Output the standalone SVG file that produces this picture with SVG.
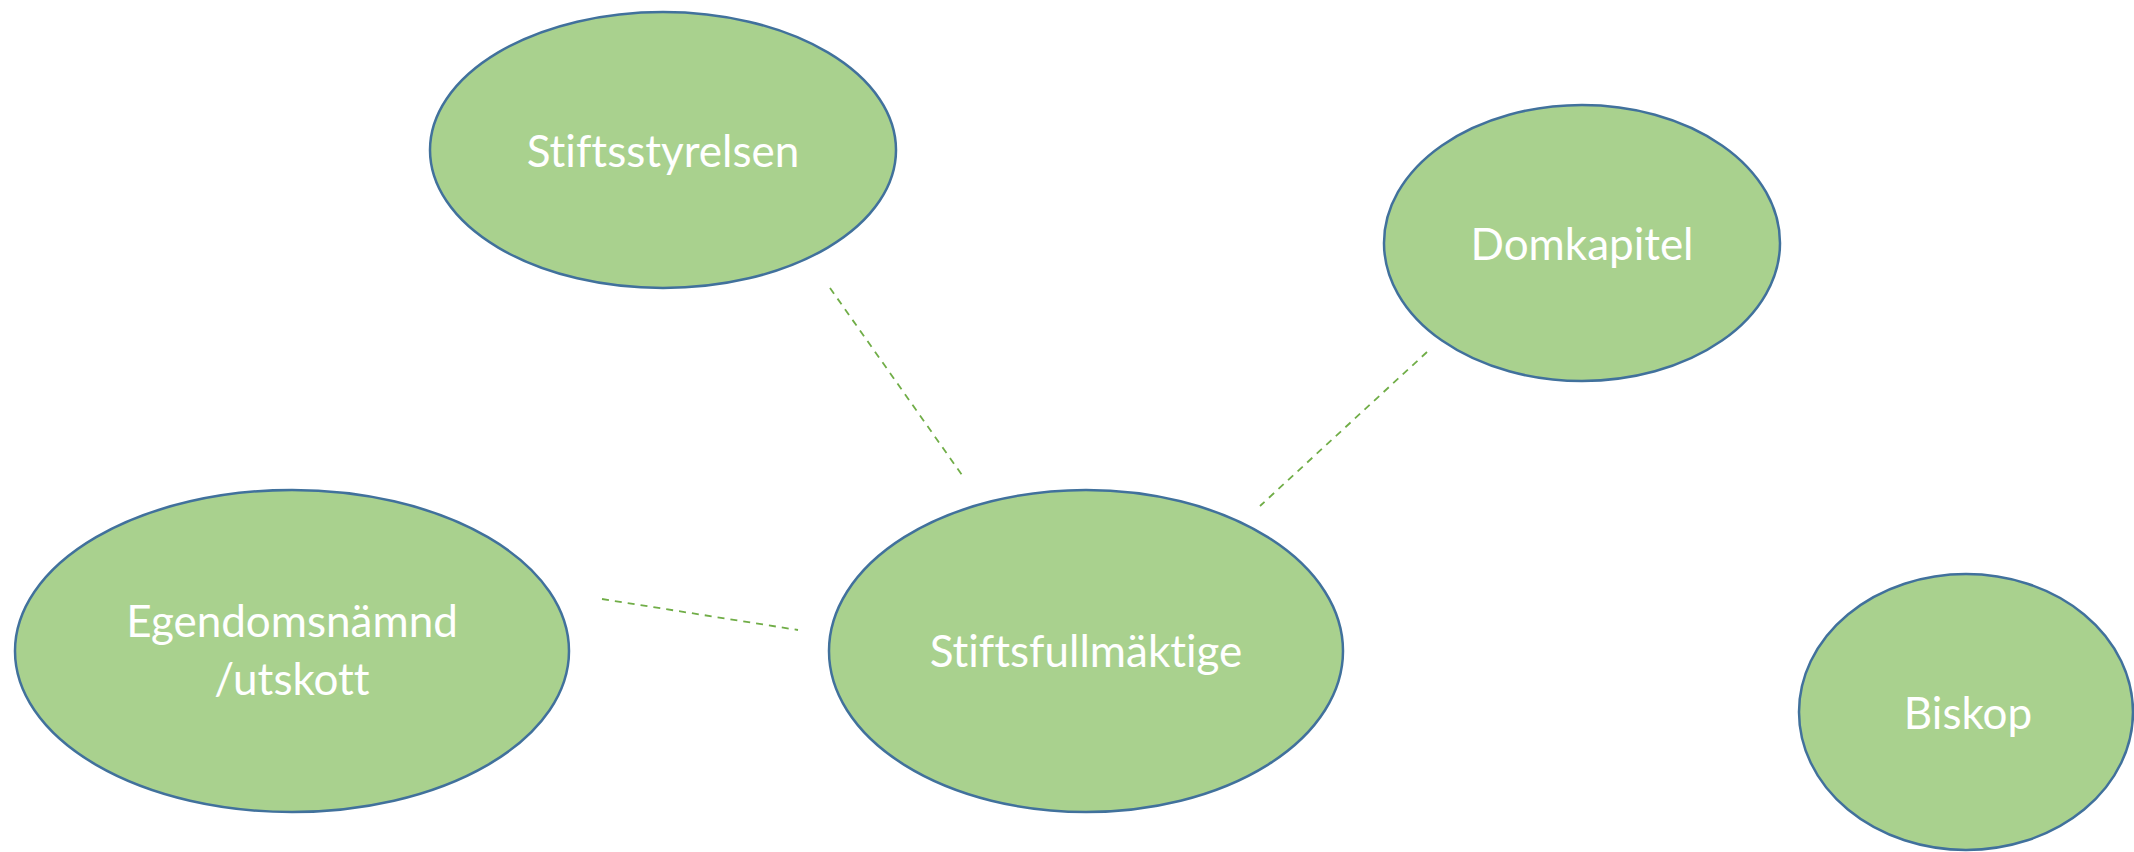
<svg xmlns="http://www.w3.org/2000/svg" width="2134" height="852" viewBox="0 0 2134 852">
<style>
.n ellipse{fill:#A9D18E;stroke:#41719C;stroke-width:2.5}
.n text{fill:#FFFFFF;font-family:Lato,"Open Sans","Liberation Sans",sans-serif;font-size:44px;text-anchor:middle;font-variant-ligatures:none}
.c line{stroke:#70AD47;stroke-width:1.8;stroke-dasharray:7 6;fill:none}
</style>
<rect width="2134" height="852" fill="#FFFFFF"/>
<g id="connectors" class="c">
<line x1="830" y1="288" x2="962" y2="475"/>
<line x1="602" y1="599" x2="798" y2="630"/>
<line x1="1427" y1="352" x2="1260" y2="506"/>
</g>
<g id="stiftsstyrelsen" class="n">
<ellipse cx="663" cy="150" rx="233" ry="138"/>
<text x="663" y="167">Stiftsstyrelsen</text>
</g>
<g id="domkapitel" class="n">
<ellipse cx="1582" cy="243" rx="198" ry="138"/>
<text x="1582" y="260">Domkapitel</text>
</g>
<g id="egendomsnamnd" class="n">
<ellipse cx="292" cy="651" rx="277" ry="161"/>
<text x="292" y="637">Egendomsnämnd</text>
<text x="292" y="695">/utskott</text>
</g>
<g id="stiftsfullmaktige" class="n">
<ellipse cx="1086" cy="651" rx="257" ry="161"/>
<text x="1086" y="667">Stiftsfullmäktige</text>
</g>
<g id="biskop" class="n">
<ellipse cx="1966" cy="712" rx="167" ry="138"/>
<text x="1968" y="729">Biskop</text>
</g>
</svg>
